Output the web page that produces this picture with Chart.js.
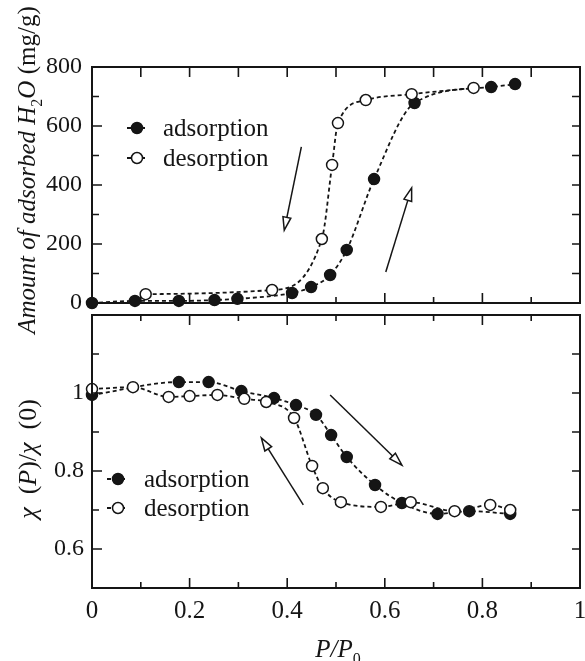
<!DOCTYPE html>
<html>
<head>
<meta charset="utf-8" />
<title>H2O sorption and susceptibility</title>
<script src="https://cdn.jsdelivr.net/npm/chart.js@4.4.1/dist/chart.umd.min.js"></script>
<style>
    body { margin: 0; background: #fff; overflow: hidden; }
    #wrap { position: relative; width: 585px; height: 661px; overflow: hidden; }
    canvas { position: absolute; left: 0; }
    #topChart { top: 0; }
    #botChart { top: 305px; }
</style>
</head>
<body>
<div id="wrap">
    <canvas id="topChart" width="595" height="340"></canvas>
    <canvas id="botChart" width="595" height="356"></canvas>
</div>
<script>
    // top panel: amount of adsorbed water vs P/P0
    const adsUptakeP = [0, 0.088, 0.178, 0.251, 0.298, 0.41, 0.449, 0.488, 0.522, 0.578, 0.661, 0.818, 0.867];
    const adsUptake  = [0, 7, 7, 10, 14, 34, 54, 95, 180, 420, 678, 732, 742];
    const desUptakeP = [0.11, 0.369, 0.471, 0.492, 0.504, 0.561, 0.655, 0.782];
    const desUptake  = [30, 44, 217, 468, 610, 688, 708, 729];

    // bottom panel: chi(P)/chi(0) vs P/P0
    const adsChiP = [0, 0.178, 0.239, 0.306, 0.373, 0.418, 0.459, 0.49, 0.522, 0.58, 0.635, 0.708, 0.773, 0.857];
    const adsChi  = [0.995, 1.028, 1.028, 1.005, 0.987, 0.969, 0.944, 0.892, 0.836, 0.764, 0.718, 0.69, 0.697, 0.69];
    const desChiP = [0, 0.084, 0.157, 0.2, 0.257, 0.312, 0.357, 0.414, 0.451, 0.473, 0.51, 0.592, 0.653, 0.743, 0.816, 0.857];
    const desChi  = [1.01, 1.015, 0.99, 0.992, 0.995, 0.985, 0.977, 0.936, 0.813, 0.756, 0.72, 0.708, 0.72, 0.697, 0.713, 0.7];

    const xTicks = [0, 0.2, 0.4, 0.6, 0.8, 1];
    const uptakeTicks = [0, 200, 400, 600, 800];
    const chiTicks = [0.6, 0.8, 1];

    // arrows, in data units [P/P0, value]
    const uptakeArrows = [
        { from: [0.429, 529], to: [0.394, 247] },
        { from: [0.602, 105], to: [0.655, 390] }
    ];
    const chiArrows = [
        { from: [0.488, 0.995], to: [0.635, 0.815] },
        { from: [0.433, 0.713], to: [0.347, 0.885] }
    ];

    const serif = "'Liberation Serif', 'Times New Roman', serif";
    const ink = '#151515';
    Chart.defaults.font.family = serif;
    Chart.defaults.color = ink;

    const pts = (xs, ys) => xs.map((x, i) => ({ x: x, y: ys[i] }));
    const fmt = v => String(Number(v.toFixed(1)));

    function series(data, filled) {
        return {
            data: data,
            showLine: true,
            borderColor: ink,
            borderWidth: 1.8,
            borderDash: [4, 3],
            tension: 0.4,
            cubicInterpolationMode: 'monotone',
            pointRadius: 5.5,
            pointBorderWidth: 1.5,
            pointBorderColor: ink,
            pointBackgroundColor: filled ? ink : '#fff',
            clip: false,
            order: filled ? 1 : 0
        };
    }

    function fontOf(r, size) {
        return (r.it ? 'italic ' : '') + Math.round(r.sub ? size * 0.65 : size) + 'px ' + serif;
    }

    // draws a run of mixed-style text centred on the origin
    function drawRuns(ctx, runs, size) {
        let w = 0;
        runs.forEach(r => { ctx.font = fontOf(r, size); w += ctx.measureText(r.t).width; });
        let x = -w / 2;
        runs.forEach(r => {
            ctx.font = fontOf(r, size);
            ctx.fillText(r.t, x, r.sub ? size * 0.28 : 0);
            x += ctx.measureText(r.t).width;
        });
    }

    function drawCircle(ctx, x, y, filled) {
        ctx.beginPath();
        ctx.arc(x, y, 5.5, 0, Math.PI * 2);
        ctx.fillStyle = filled ? ink : '#fff';
        ctx.fill();
        ctx.lineWidth = 1.5;
        ctx.strokeStyle = ink;
        ctx.stroke();
    }

    const decor = {
        id: 'decor',
        afterDraw(chart, args, o) {
            const ctx = chart.ctx;
            const a = chart.chartArea;
            const sx = chart.scales.x, sy = chart.scales.y;
            ctx.save();
            ctx.strokeStyle = ink;
            ctx.fillStyle = ink;

            // frame
            ctx.lineWidth = 2;
            ctx.strokeRect(a.left, a.top, a.right - a.left, a.bottom - a.top);

            // inward tick marks
            ctx.lineWidth = 1.6;
            ctx.beginPath();
            for (let i = 1; i < 10; i++) {
                const px = sx.getPixelForValue(i / 10);
                const major = i % 2 === 0;
                ctx.moveTo(px, a.bottom); ctx.lineTo(px, a.bottom - (major ? 10 : 6));
                ctx.moveTo(px, a.top); ctx.lineTo(px, a.top + (o.topAllLong || major ? 10 : 6));
            }
            for (let v = o.yMinor; v < o.yMax - 1e-9; v += o.yMinor) {
                if (v <= sy.min + 1e-9) continue;
                const py = sy.getPixelForValue(v);
                const major = Math.abs(v / o.yMajor - Math.round(v / o.yMajor)) < 1e-6;
                ctx.moveTo(a.left, py); ctx.lineTo(a.left + (major ? 10 : 7), py);
                ctx.moveTo(a.right, py); ctx.lineTo(a.right - 8, py);
            }
            ctx.stroke();

            // arrows with open heads
            o.arrows.forEach(ar => {
                const x0 = sx.getPixelForValue(ar.from[0]), y0 = sy.getPixelForValue(ar.from[1]);
                const x1 = sx.getPixelForValue(ar.to[0]), y1 = sy.getPixelForValue(ar.to[1]);
                const ang = Math.atan2(y1 - y0, x1 - x0);
                const len = 13, hw = 4;
                const bx = x1 - len * Math.cos(ang), by = y1 - len * Math.sin(ang);
                ctx.lineWidth = 1.5;
                ctx.beginPath();
                ctx.moveTo(x0, y0); ctx.lineTo(bx, by);
                ctx.stroke();
                ctx.beginPath();
                ctx.moveTo(x1, y1);
                ctx.lineTo(bx + hw * Math.sin(ang), by - hw * Math.cos(ang));
                ctx.lineTo(bx - hw * Math.sin(ang), by + hw * Math.cos(ang));
                ctx.closePath();
                ctx.fillStyle = '#fff';
                ctx.fill();
                ctx.stroke();
            });

            // legend
            const lg = o.legend;
            [['adsorption', true], ['desorption', false]].forEach((e, i) => {
                const y = lg.y + i * lg.dy;
                ctx.lineWidth = 1.8;
                ctx.setLineDash([4, 3]);
                ctx.beginPath();
                ctx.moveTo(lg.x0, y); ctx.lineTo(lg.x1, y);
                ctx.stroke();
                ctx.setLineDash([]);
                drawCircle(ctx, lg.cx, y, e[1]);
                ctx.fillStyle = ink;
                ctx.font = '25px ' + serif;
                ctx.textBaseline = 'middle';
                ctx.textAlign = 'left';
                ctx.fillText(e[0], lg.tx, y + 1);
            });

            // axis titles
            ctx.textBaseline = 'alphabetic';
            ctx.textAlign = 'left';
            ctx.fillStyle = ink;
            o.titles.forEach(t => {
                ctx.save();
                ctx.translate(t.x, t.y);
                if (t.rot) ctx.rotate(-Math.PI / 2);
                drawRuns(ctx, t.runs, t.size || 25);
                ctx.restore();
            });
            ctx.restore();
        }
    };

    function baseScales(yMin, yMax, yTicks, yFont, yPad, xHeight, showX) {
        return {
            x: {
                type: 'linear', min: 0, max: 1,
                afterBuildTicks: s => { s.ticks = xTicks.map(v => ({ value: v })); },
                ticks: { display: showX, callback: v => fmt(v), font: { family: serif, size: 25 }, padding: 8, maxRotation: 0, color: ink },
                grid: { display: false, drawTicks: false },
                border: { display: false },
                afterFit: s => { s.height = xHeight; s.paddingLeft = 0; s.paddingRight = 0; }
            },
            y: {
                type: 'linear', min: yMin, max: yMax,
                afterBuildTicks: s => { s.ticks = yTicks.map(v => ({ value: v })); },
                ticks: { callback: v => fmt(v), font: { family: serif, size: yFont }, padding: yPad, color: ink },
                grid: { display: false, drawTicks: false },
                border: { display: false },
                afterFit: s => { s.width = 92; s.paddingTop = 0; s.paddingBottom = 0; }
            }
        };
    }

    new Chart(document.getElementById('topChart'), {
        type: 'scatter',
        data: {
            datasets: [
                series(pts(adsUptakeP, adsUptake), true),
                series(pts(desUptakeP, desUptake), false)
            ]
        },
        options: {
            responsive: false,
            animation: false,
            events: [],
            layout: { padding: { top: 67, right: 15, left: 0, bottom: 0 } },
            scales: baseScales(0, 800, uptakeTicks, 24, 10, 37, false),
            plugins: {
                legend: { display: false },
                tooltip: { enabled: false },
                decor: {
                    yMinor: 100, yMajor: 200, yMax: 800, topAllLong: true,
                    arrows: uptakeArrows,
                    legend: { x0: 127, x1: 148, cx: 137, tx: 163, y: 128, dy: 30 },
                    titles: [{
                        x: 35, y: 170, rot: true,
                        runs: [{ t: 'Amount of adsorbed H', it: true }, { t: '2', sub: true }, { t: 'O', it: true }, { t: ' (mg/g)' }]
                    }]
                }
            }
        },
        plugins: [decor]
    });

    new Chart(document.getElementById('botChart'), {
        type: 'scatter',
        data: {
            datasets: [
                series(pts(adsChiP, adsChi), true),
                series(pts(desChiP, desChi), false)
            ]
        },
        options: {
            responsive: false,
            animation: false,
            events: [],
            layout: { padding: { top: 10, right: 15, left: 0, bottom: 0 } },
            scales: baseScales(0.5, 1.2, chiTicks, 24, 8, 73, true),
            plugins: {
                legend: { display: false },
                tooltip: { enabled: false },
                decor: {
                    yMinor: 0.1, yMajor: 0.2, yMax: 1.2, topAllLong: false,
                    arrows: chiArrows,
                    legend: { x0: 107, x1: 128, cx: 118, tx: 144, y: 174, dy: 29 },
                    titles: [
                        {
                            x: 36, y: 154, rot: true, size: 26,
                            runs: [{ t: 'χ', it: true }, { t: '  (' }, { t: 'P', it: true }, { t: ')/' }, { t: 'χ', it: true }, { t: '  (0)' }]
                        },
                        {
                            x: 338, y: 352, rot: false,
                            runs: [{ t: 'P/P', it: true }, { t: '0', sub: true }]
                        }
                    ]
                }
            }
        },
        plugins: [decor]
    });
</script>
</body>
</html>
